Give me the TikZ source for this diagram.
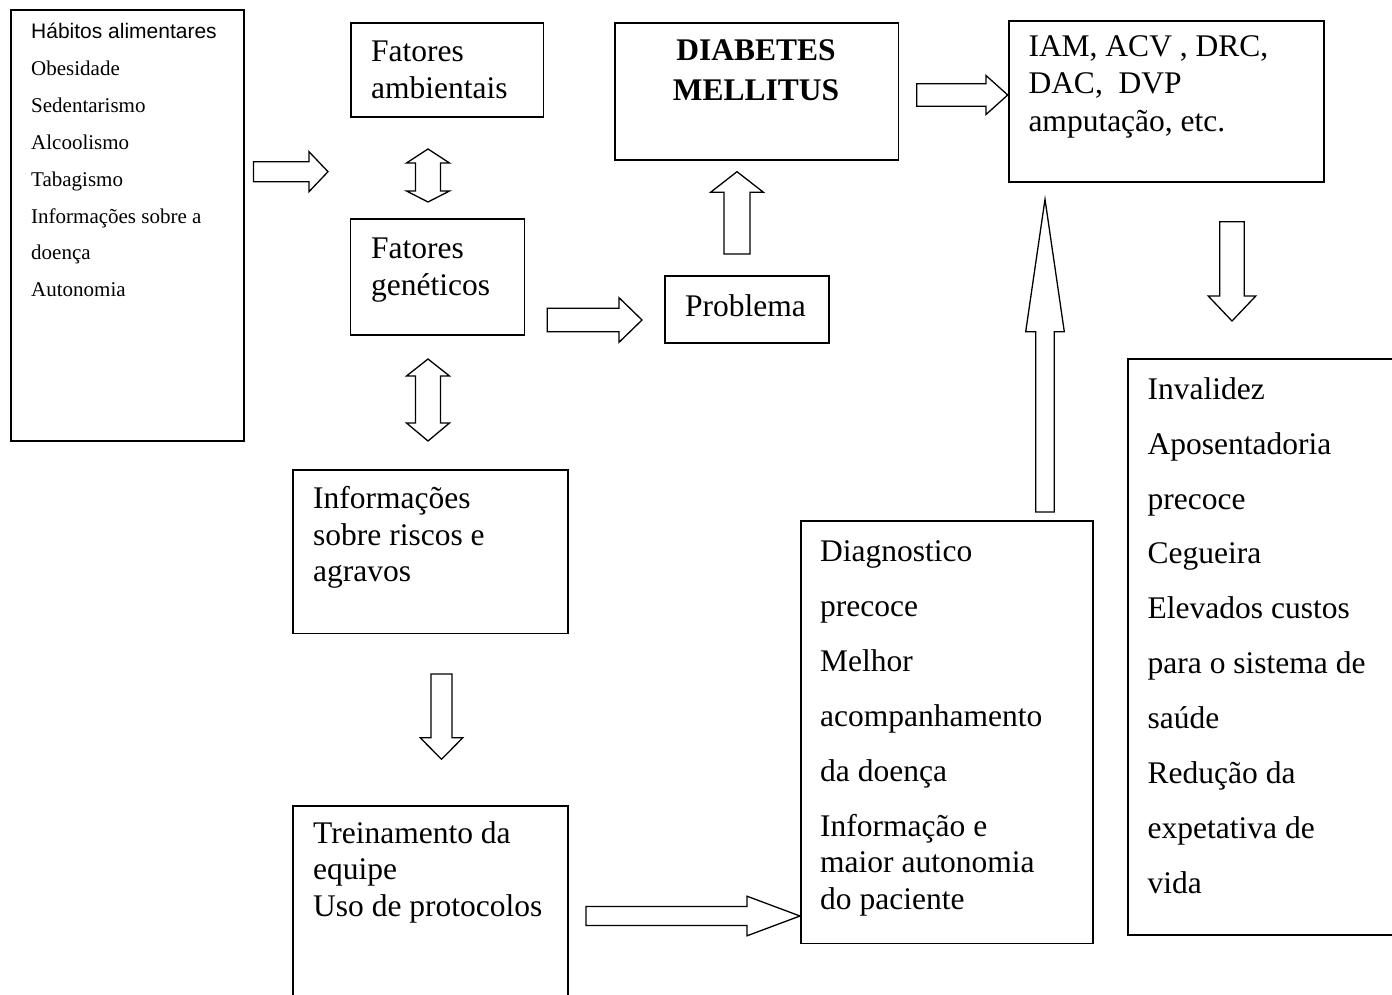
\documentclass[tikz,border=0pt]{standalone}
\usepackage{fontspec}
\setmainfont{Liberation Serif}
\setsansfont{Liberation Sans}
\newcommand{\bkRight}[6]{% tail x, tip x, centre y, shaft half, head half, head length
  \draw[barrow] (#1,#3-#4) -- (#2-#6,#3-#4) -- (#2-#6,#3-#5) -- (#2,#3) -- (#2-#6,#3+#5) -- (#2-#6,#3+#4) -- (#1,#3+#4) -- cycle;}
\newcommand{\bkUp}[6]{% centre x, tail y, tip y, shaft half, head half, head length
  \draw[barrow] (#1-#4,#2) -- (#1-#4,#3+#6) -- (#1-#5,#3+#6) -- (#1,#3) -- (#1+#5,#3+#6) -- (#1+#4,#3+#6) -- (#1+#4,#2) -- cycle;}
\newcommand{\bkDown}[6]{% centre x, tail y, tip y, shaft half, head half, head length
  \draw[barrow] (#1-#4,#2) -- (#1-#4,#3-#6) -- (#1-#5,#3-#6) -- (#1,#3) -- (#1+#5,#3-#6) -- (#1+#4,#3-#6) -- (#1+#4,#2) -- cycle;}
\newcommand{\bkUpDown}[7]{% centre x, top tip, top head base, bottom head base, bottom tip, shaft half, head half
  \draw[barrow] (#1,#2) -- (#1+#7,#3) -- (#1+#6,#3) -- (#1+#6,#4) -- (#1+#7,#4) -- (#1,#5) -- (#1-#7,#4) -- (#1-#6,#4) -- (#1-#6,#3) -- (#1-#7,#3) -- cycle;}
\newcommand{\bigstrut}{\rule{0pt}{30pt}}
\newcommand{\smallstrut}{\rule{0pt}{20pt}}
\begin{document}
\begin{tikzpicture}[x=1pt,y=-1pt,
  box/.style={draw, line width=1.8pt, inner sep=0pt, anchor=north west},
  txt/.style={anchor=north west, inner sep=0pt, align=left, font=\fontsize{31.5}{36.7}\selectfont},
  barrow/.style={draw, line width=1.3pt, fill=white, line join=miter}]
\useasboundingbox (0,0) rectangle (1392,995);

% boxes
\node[box, minimum width=233pt, minimum height=431pt] (hab) at (10,9) {};
\node[box, minimum width=192.5pt, minimum height=94pt] (amb) at (350,22.5) {};
\node[box, minimum width=283.5pt, minimum height=137pt] (dm) at (614,22.5) {};
\node[box, minimum width=315pt, minimum height=161pt] (iam) at (1008,20) {};
\node[box, minimum width=174pt, minimum height=116pt] (gen) at (349.5,218.3) {};
\node[box, minimum width=164pt, minimum height=67pt] (prob) at (664,275) {};
\node[box, minimum width=275pt, minimum height=163.5pt] (inf) at (292,469) {};
\node[box, minimum width=275pt, minimum height=205pt] (trein) at (292,805) {};
\node[box, minimum width=292pt, minimum height=422.5pt] (diag) at (800,520) {};
\node[box, minimum width=280pt, minimum height=576pt] (inv) at (1127,358) {};

% texts
\node[txt, font=\fontsize{21}{36.9}\selectfont] (habt) at (31,18.3)
  {\smallstrut{\sffamily Hábitos alimentares}\\Obesidade\\Sedentarismo\\Alcoolismo\\Tabagismo\\Informações sobre a\\doença\\Autonomia};
\node[txt] (ambt) at (371,31.7) {\bigstrut Fatores\\ambientais};
\node[txt, anchor=north, align=center, font=\fontsize{31.5}{40}\selectfont\bfseries] (dmt) at (756,30)
  {\bigstrut DIABETES\\MELLITUS};
\node[txt, font=\fontsize{31.5}{37.5}\selectfont] (iamt) at (1028.3,26.3)
  {\bigstrut IAM, ACV , DRC,\\DAC,\ \ DVP\\amputação, etc.};
\node[txt] (gent) at (371,228.3) {\bigstrut Fatores\\genéticos};
\node[txt] (probt) at (685,286.7) {\bigstrut Problema};
\node[txt] (inft) at (313,478.3) {\bigstrut Informações\\sobre riscos e\\agravos};
\node[txt, font=\fontsize{31.5}{36.4}\selectfont] (treint) at (313,813.3)
  {\bigstrut Treinamento da\\equipe\\Uso de protocolos};
\node[txt, font=\fontsize{31.5}{36.5}\selectfont] (diagt) at (820,531)
  {\bigstrut Diagnostico\\[18.5pt]precoce\\[18.5pt]Melhor\\[18.5pt]acompanhamento\\[18.5pt]da doença\\[18.5pt]Informação e\\maior autonomia\\do paciente};
\node[txt, font=\fontsize{31.5}{54.9}\selectfont] (invt) at (1147.5,369)
  {\bigstrut Invalidez\\Aposentadoria\\precoce\\Cegueira\\Elevados custos\\para o sistema de\\saúde\\Redução da\\expetativa de\\vida};

% block arrows
\bkRight{253.4}{328}{171.7}{10}{20}{19}
\bkUpDown{428}{149}{163}{191}{202}{12.5}{21.5}
\bkUpDown{428}{359}{376}{423}{441}{12.5}{21.5}
\bkRight{547.3}{642}{320}{11.7}{22.3}{23}
\bkUp{737}{254}{171.7}{13}{26.3}{20.5}
\bkRight{916.7}{1007.7}{95}{11.3}{19.5}{21.7}
\bkDown{1232}{221.7}{321}{12.2}{23.8}{25}
\bkUp{1045}{512}{199.3}{9.3}{19.3}{132.4}
\bkDown{441.5}{674}{759.3}{10.5}{21.2}{21.5}
\bkRight{586}{800}{916}{9.5}{19.8}{53}
\end{tikzpicture}
\end{document}
